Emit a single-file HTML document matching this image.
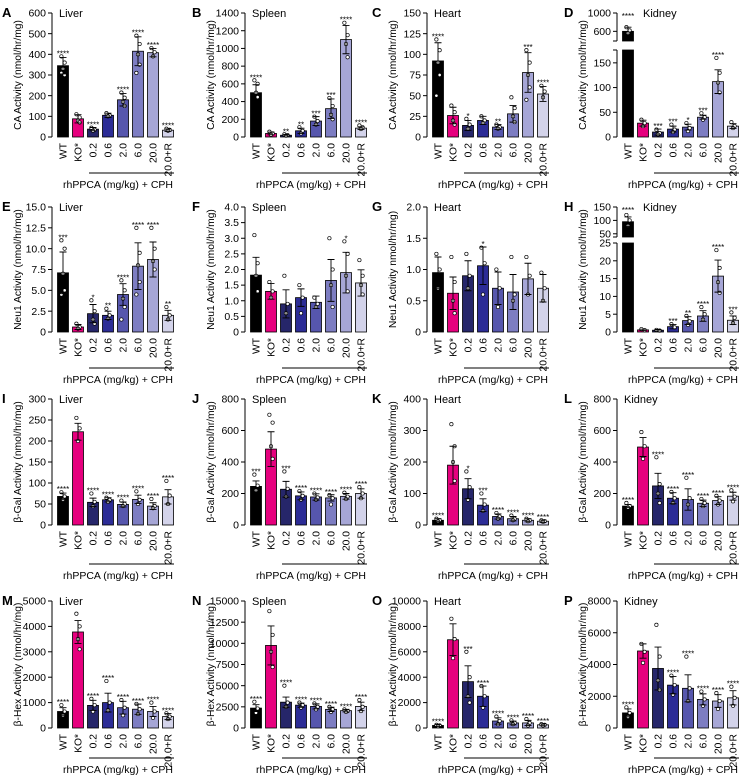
<!DOCTYPE html>
<html><head><meta charset="utf-8">
<style>
html,body{margin:0;padding:0;background:#fff;}
svg{display:block;font-family:"Liberation Sans",Arial,sans-serif;}
</style></head>
<body>
<svg id="fig" width="740" height="778" viewBox="0 0 740 778" xmlns="http://www.w3.org/2000/svg"></svg>
<script>
const categories = ["WT","KO*","0.2","0.6","2.0","6.0","20.0","20.0+R"];
const barColors = ["#000000","#e6007e","#26266a","#2c2c96","#5656ad","#7d7dc2","#a6a6d6","#d3d3ea"];
const panelLetters = ["A","B","C","D","E","F","G","H","I","J","K","L","M","N","O","P"];
const tissues = ["Liver","Spleen","Heart","Kidney"];
const yTitles = ["CA Activity (nmol/hr/mg)","Neu1 Activity (nmol/hr/mg)","\u03b2-Gal Activity (nmol/hr/mg)","\u03b2-Hex Activity (nmol/hr/mg)"];
const yTitleG = "Neu1 Activity nmol/hr/mg)";

const means = [
 [345,88,38,105,180,415,408,33],[500,40,20,70,180,320,1100,100],[92,26,14,20,12,28,78,52],[600,28,10,16,20,40,112,22],
 [7.1,0.6,2.2,2.0,4.5,7.9,8.7,2.0],[1.82,1.3,0.9,1.1,0.95,1.65,1.9,1.57],[0.95,0.62,0.9,1.06,0.7,0.64,0.85,0.7],[95,0.6,0.5,1.5,3.2,4.5,15.7,3.3],
 [68,222,54,60,49,61,45,67],[245,482,227,185,178,172,182,200],[15,190,115,63,27,20,15,12],[120,495,248,170,162,138,155,183],
 [650,3780,890,1000,800,740,650,450],[2350,9750,3050,2700,2550,2200,2050,2550],[200,6950,3650,2500,550,400,400,250],[950,4850,3750,2700,2500,1800,1700,1900]
];
const errs = [
 [40,20,8,10,30,70,20,6],[90,15,8,30,50,110,160,15],[22,10,6,5,3,10,24,9],[90,6,6,6,6,4,24,5],
 [2.5,0.3,1.1,0.5,1.3,2.8,2.1,0.6],[0.57,0.25,0.45,0.28,0.2,0.67,0.65,0.42],[0.25,0.26,0.24,0.3,0.26,0.28,0.25,0.22],[18,0.2,0.2,0.6,1.1,1.5,4.5,1.2],
 [8,20,10,5,6,10,8,17],[35,110,50,25,20,20,18,30],[5,60,32,20,8,7,5,4],[10,60,80,35,68,20,25,25],
 [150,450,200,370,250,200,200,120],[400,2300,600,250,300,250,150,500],[80,1250,1250,800,250,150,200,80],[250,450,1350,550,850,350,400,450]
];
const stars = [
 ["****","","****","","****","****","****","****"],["****","","**","**","***","***","****","****"],["****","","*","","**","","***","****"],["****","","***","***","*","***","****",""],
 ["***","","*","**","****","****","****","**"],["","","","","","","*",""],["","","","*","","","",""],["****","","","***","**","****","****","***"],
 ["****","","****","****","****","****","****","****"],["***","","***","****","****","****","****","****"],["****","","*","***","****","****","****","****"],["****","","****","****","****","****","****","****"],
 ["****","","****","****","****","****","****","****"],["****","","****","****","****","****","****","****"],["****","","***","****","****","****","****","****"],["****","","","****","****","****","****","****"]
];
const points = [
 [[390,360,330,300,310],[110,95,80,70],[45,35,30],[115,105,100],[215,190,170,150],[490,450,400,350,310],[430,410,390],[40,35,30]],
 [[640,600,500,450],[60,40,25],[30,20,15],[110,70,40],[230,180,140],[440,350,250,200],[1290,1150,1050,900],[130,110,90]],
 [[118,105,90,75,50],[38,30,20,15],[22,15,10],[25,20,17],[15,12,10],[48,35,25,18],[105,90,75,60,45],[62,55,48]],
 [[690,620,560],[35,28,22],[15,8,5],[25,15,10],[28,18,12],[48,40,35],[160,130,110,90],[30,22,18]],
 [[11,10,7,5,4.5],[1,0.6,0.4],[3.8,2.5,1.5,1],[2.8,2,1.6],[6.2,5,4,3,1.5],[12.5,9.5,8,6,4.5],[12.5,10,8.5,7.5],[3,2,1.5]],
 [[3.1,2.2,1.8,1.3],[1.6,1.3,1.1],[1.8,0.9,0.6],[1.5,1.1,0.6],[1.1,0.9,0.8],[3,2,1.5,0.8],[2.9,2.5,1.8,1.3],[2.3,1.8,1.5,1.2]],
 [[1.25,1.0,0.7],[1.2,0.8,0.5,0.3],[1.25,0.9,0.7],[1.35,1.1,0.6],[1.0,0.7,0.4],[1.2,0.6,0.5],[1.2,0.9,0.6],[0.95,0.7,0.5]],
 [[120,100,80],[0.8,0.5],[0.6,0.4],[2.2,1.3],[4.5,3,2],[7,5,3.5],[23,18,14,11],[5.5,4,2.5]],
 [[78,68,60],[255,230,200],[75,55,45],[65,60,55],[58,50,45],[80,60,50],[62,45,40],[105,70,50]],
 [[320,250,220],[700,650,500,420],[340,230,180],[215,185,160],[200,175,160],[190,170,130],[205,180,165],[240,200,170]],
 [[20,15,12],[320,250,200,140],[170,120,80],[100,65,45],[38,27,20],[30,20,15],[20,15,12],[15,12,10]],
 [[140,120,110],[590,500,420],[430,260,200,140],[210,170,140],[300,170,130],[165,140,120],[185,155,130],[220,180,150]],
 [[900,650,500],[4500,4000,3500,3100],[1150,900,650],[1850,1000,700],[1100,800,500],[950,740,550],[1000,650,400],[580,450,350]],
 [[3100,2300,1800],[13800,11000,9000,7200],[5000,3000,2500],[3000,2700,2400],[2900,2500,2200],[2500,2200,1900],[2200,2000,1900],[3300,2500,2000]],
 [[250,200,150],[8600,7000,5500],[6000,4000,2500,2000],[3300,2500,1600],[900,550,300],[600,400,300],[700,400,200],[300,250,200]],
 [[1300,950,700],[5300,4800,4100],[6500,4500,3000,2400],[3300,2700,2100],[4500,2500,1700],[2300,1800,1400],[2200,1700,1200],[2600,1900,1400]]
];
const yMax = [600,1400,150,null,15,4,2,null,300,800,400,800,5000,15000,10000,8000];
const tickLabels = [
 ["0","100","200","300","400","500","600"],["0","200","400","600","800","1000","1200","1400"],["0","25","50","75","100","125","150"],["0","50","100","150"],
 ["0","2.5","5.0","7.5","10.0","12.5","15.0"],["0","0.5","1.0","1.5","2.0","2.5","3.0","3.5","4.0"],["0","0.5","1.0","1.5","2.0"],["0","5","10","15","20","25"],
 ["0","50","100","150","200","250","300"],["0","200","400","600","800"],["0","100","200","300","400"],["0","200","400","600","800"],
 ["0","1000","2000","3000","4000","5000"],["0","2500","5000","7500","10000","12500","15000"],["0","2000","4000","6000","8000","10000"],["0","2000","4000","6000","8000"]
];
const upperTickLabelsD = ["600","1000"];
const upperTickLabelsH = ["50","100","150"];

const axisX = [52,245,427,617];
const rowTop = [13,207,399,601];
const rowZero = [137,332,525,728];
const bracketOff = [36,36,39,30];
const textOff = [51,51,54,45];

const svg = document.getElementById('fig');
const NS = "http://www.w3.org/2000/svg";
function mk(tag, attrs, parent){
  const e = document.createElementNS(NS, tag);
  for (const k in attrs) e.setAttribute(k, attrs[k]);
  (parent||svg).appendChild(e);
  return e;
}

for (let p=0;p<16;p++){
  const row = Math.floor(p/4), col = p%4;
  const ax = axisX[col], top = rowTop[row], zero = rowZero[row];
  const g = mk('g',{});
  
  
  const broken = (p===3 || p===7);
  let yScale, lowTop, upBot, upLo, upHi, lowMax;
  if (p===3){ lowMax=176; lowTop=50; upLo=389; upHi=1000; upBot=41; }
  if (p===7){ lowMax=25; lowTop=243; upLo=38; upHi=150; upBot=237; }
  if (!broken){
    yScale = v => zero - v/yMax[p]*(zero-top);
  } else {
    yScale = v => v<=lowMax ? zero - v/lowMax*(zero-lowTop) : upBot - (v-upLo)/(upHi-upLo)*(upBot-top);
  }
  const xc = i => ax + 11 + i*15;
  const bw = 11;
  const plotRight = xc(7)+7;

  const L = mk('text',{x: ax - (col===0?50:col===1?53:col===2?55:53), y: top+4, 'font-size':13,'font-weight':'bold'}, g);
  L.textContent = panelLetters[p];
  
  
  const T = mk('text',{x: ax + (broken?26:7), y: top+4, 'font-size':11}, g);
  T.textContent = tissues[col];
  
  
  const ym = (top+zero)/2;
  const YT = mk('text',{x:0,y:0,'font-size':10.3,'text-anchor':'middle',transform:`translate(${ax-31},${ym}) rotate(-90)`}, g);
  YT.textContent = p===6 ? yTitleG : yTitles[row];
  
  

  const labs = tickLabels[p];
  if (!broken){
    mk('line',{x1:ax,y1:top,x2:ax,y2:zero,stroke:'#000','stroke-width':1},g);
    labs.forEach(t=>{
      const y = yScale(parseFloat(t));
      mk('line',{x1:ax-4,y1:y,x2:ax,y2:y,stroke:'#000','stroke-width':1},g);
      const tt = mk('text',{x:ax-6,y:y+3.6,'font-size':10.5,'text-anchor':'end'},g);
      tt.textContent = t;
      
      
    });
  } else {
    mk('line',{x1:ax,y1:lowTop,x2:ax,y2:zero,stroke:'#000','stroke-width':1},g);
    mk('line',{x1:ax,y1:top,x2:ax,y2:upBot,stroke:'#000','stroke-width':1},g);
    mk('line',{x1:ax-4,y1:lowTop,x2:ax,y2:lowTop,stroke:'#000'},g);
    mk('line',{x1:ax-4,y1:upBot,x2:ax,y2:upBot,stroke:'#000'},g);
    labs.forEach(t=>{
      const y = yScale(parseFloat(t));
      mk('line',{x1:ax-4,y1:y,x2:ax,y2:y,stroke:'#000'},g);
      const tt = mk('text',{x:ax-6,y:y+3.6,'font-size':10.5,'text-anchor':'end'},g);
      tt.textContent = t;
      
      
    });
    (p===3?upperTickLabelsD:upperTickLabelsH).forEach(t=>{
      const y = yScale(parseFloat(t));
      mk('line',{x1:ax-4,y1:y,x2:ax,y2:y,stroke:'#000'},g);
      const tt = mk('text',{x:ax-6,y:y+3.6,'font-size':10.5,'text-anchor':'end'},g);
      tt.textContent = t;
      
      
    });
  }

  for (let i=0;i<8;i++){
    const m = means[p][i], e = errs[p][i], cx = xc(i);
    if (broken && m>lowMax){
      const b1 = mk('rect',{x:cx-bw/2,y:lowTop,width:bw,height:zero-lowTop,fill:barColors[i],stroke:'#000','stroke-width':0.8},g);
      
      
      const yt = yScale(m);
      const b2 = mk('rect',{x:cx-bw/2,y:yt,width:bw,height:upBot-yt,fill:barColors[i],stroke:'#000','stroke-width':0.8},g);
      
      
    } else {
      const yt = yScale(m);
      const b = mk('rect',{x:cx-bw/2,y:yt,width:bw,height:Math.max(0.5,zero-yt),fill:barColors[i],stroke:'#000','stroke-width':0.8},g);
      
      
    }
    points[p][i].forEach((v,k)=>{
      const d = mk('circle',{cx:cx+(k%2?1.6:-1.6)*(k%3===2?0:1),cy:yScale(v),r:1.7,fill:'#fff',stroke:'#000','stroke-width':0.7},g);
      
      
    });
    const e1 = yScale(m+e), e0 = yScale(Math.max(0,m-e));
    const eb = mk('path',{d:`M${cx},${e0}V${e1}M${cx-3.5},${e1}H${cx+3.5}M${cx-3.5},${e0}H${cx+3.5}`,stroke:'#000','stroke-width':0.9,fill:'none'},g);
    
    
    if (stars[p][i]){
      const hi = Math.max(m+e, ...points[p][i]);
      let sy = yScale(hi) - 3;
      if (broken && i===0) sy = top+3;
      const s = mk('text',{x:cx,y:sy+3,'font-size':8,'text-anchor':'middle'},g);
      s.textContent = stars[p][i];
      
      
    }
    const cl = mk('text',{x:0,y:0,'font-size':10.3,'text-anchor':'end',transform:`translate(${cx+3.6},${zero+6}) rotate(-90)`},g);
    cl.textContent = categories[i];
    
    
  }
  const br = mk('line',{x1:xc(2)-4,y1:zero+bracketOff[row],x2:plotRight-1,y2:zero+bracketOff[row],stroke:'#000','stroke-width':0.9},g);
  
  
  const bt = mk('text',{x:plotRight-2,y:zero+textOff[row],'font-size':10.5,'text-anchor':'end'},g);
  bt.textContent = "rhPPCA (mg/kg) + CPH";
  
  
}
</script>
</body></html>
